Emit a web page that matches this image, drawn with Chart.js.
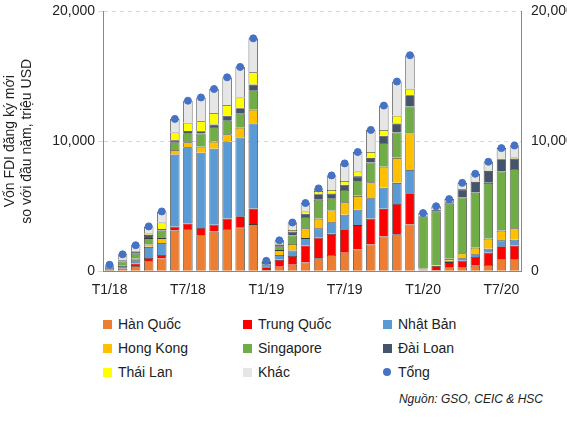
<!DOCTYPE html>
<html><head><meta charset="utf-8">
<script src="https://cdn.jsdelivr.net/npm/chart.js@4"></script>
<style>
body{margin:0;background:#fff;font-family:Arial,"Liberation Sans",sans-serif;}
#wrap{position:absolute;left:0;top:0;width:567px;height:302px;}
.lg{position:absolute;font-size:14px;color:#222;display:flex;align-items:center;}
.lg i{display:inline-block;width:9px;height:9px;margin-right:6px;}
.lg b{display:inline-block;width:8px;height:8px;border-radius:50%;margin-right:7px;}
#src{position:absolute;right:24px;top:392px;font-size:12px;font-style:italic;color:#222;}
</style></head><body>
<div id="wrap"><canvas id="c"></canvas></div>
<div id="legend"></div>
<div id="src">Nguồn: GSO, CEIC &amp; HSC</div>
<script>
const months = [];
["18","19","20"].forEach((y) => {
  const n = y === "20" ? 8 : 12;
  for (let m = 1; m <= n; m++) months.push("T" + m + "/" + y);
});
const hanQuoc   = [100,200,400,775,975,3125,3250,2775,3050,3250,3375,3625, 100,350,500,675,1000,1250,1425,1675,2050,2675,2850,3600, 75,100,300,300,425,475,925,925];
const trungQuoc = [50,50,200,250,275,300,425,550,525,800,850,1200, 200,525,675,1300,1575,1625,1800,1875,2000,2125,2325,2400, 50,300,400,500,675,950,1000,1050];
const nhatBan   = [100,150,250,850,925,5550,5875,5800,5850,5925,6075,6550, 150,375,425,575,725,900,1125,1175,1575,1625,1625,1800, 25,25,100,200,200,300,450,450];
const hongKong  = [50,50,100,175,375,350,375,450,550,575,750,1050, 50,375,500,750,750,900,950,1075,1225,1625,1925,2800, 50,25,150,375,500,775,750,875];
const singapore = [80,300,400,500,575,600,700,1025,1125,1075,1075,1500, 50,300,650,875,1450,950,950,1125,1525,1825,1950,2075, 4000,4125,4250,4300,4250,4300,4550,4575];
const daiLoan   = [60,100,150,250,125,150,175,175,200,350,425,450, 150,125,300,250,425,350,400,375,350,550,700,875, 50,150,100,625,825,925,950,800];
const thaiLan   = [20,50,50,100,500,600,625,775,875,825,825,950, 50,50,125,175,250,275,300,375,450,450,600,500, 25,25,25,25,25,50,50,75];
const khac      = [40,400,450,550,850,1050,1700,1825,1850,2125,2350,2600, 50,275,575,650,200,1125,1350,1500,1700,1875,2625,2575, 200,250,225,475,600,650,800,925];
const tong      = [500,1300,2000,3450,4600,11725,13125,13375,14025,14925,15725,17925, 800,2375,3750,5250,6375,7375,8300,9175,10875,12750,14600,16625, 4475,5000,5550,6800,7500,8425,9475,9675];
const yTicks = [0,10000,20000];

const series = [
  ["Hàn Quốc", hanQuoc, "#ED7D31"],
  ["Trung Quốc", trungQuoc, "#FF0000"],
  ["Nhật Bản", nhatBan, "#5B9BD5"],
  ["Hong Kong", hongKong, "#FFC000"],
  ["Singapore", singapore, "#70AD47"],
  ["Đài Loan", daiLoan, "#44546A"],
  ["Thái Lan", thaiLan, "#FFFF00"],
  ["Khác", khac, "#E7E6E6"],
];

const datasets = series.map(([label, data, color]) => ({
  type: "bar", label, data, backgroundColor: color,
  borderColor: "#3a3a3a", borderWidth: 0.8, stack: "s",
  barPercentage: 0.72, categoryPercentage: 1, order: 2,
}));
datasets.push({
  type: "line", label: "Tổng", data: tong, showLine: false,
  pointRadius: 3.5, pointBackgroundColor: "#4472C4", pointBorderColor: "#4472C4", order: 1,
});

const fmt = (v) => v.toLocaleString("en-US");
const font = { size: 14, family: "Arial, 'Liberation Sans', sans-serif" };

new Chart(document.getElementById("c"), {
  data: { labels: months, datasets },
  options: {
    responsive: true, maintainAspectRatio: false, animation: false,
    layout: { padding: { top: 6, right: 0, left: 0, bottom: 0 } },
    plugins: { legend: { display: false }, tooltip: { enabled: false } },
    scales: {
      x: {
        stacked: true,
        grid: { display: false, drawTicks: true },
        border: { color: "#888" },
        ticks: {
          autoSkip: false, maxRotation: 0, color: "#222", font,
          callback(value, i) { return i % 6 === 0 ? months[i] : ""; },
        },
      },
      y: {
        stacked: true, min: 0, max: 20000, position: "left",
        afterBuildTicks(s) { s.ticks = yTicks.map((v) => ({ value: v })); },
        afterFit(s) { s.width = 103; },
        grid: { color: "#d8d8d8", borderDash: [4, 4], drawTicks: true, tickLength: 5 },
        border: { color: "#888", dash: [4, 4] },
        ticks: { color: "#222", font, callback: (v) => fmt(v) },
        title: {
          display: true, color: "#222", font,
          text: ["Vốn FDI đăng ký mới", "so với đầu năm, triệu USD"],
          padding: 2,
        },
      },
      y2: {
        min: 0, max: 20000, position: "right",
        afterBuildTicks(s) { s.ticks = yTicks.map((v) => ({ value: v })); },
        afterFit(s) { s.width = 46; },
        grid: { display: false },
        border: { color: "#888" },
        ticks: { color: "#222", font, padding: 2, callback: (v) => fmt(v) },
      },
    },
  },
});

const legendItems = series.map(([l, , c]) => [l, c]).concat([["Tổng", "#4472C4"]]);
const lg = document.getElementById("legend");
legendItems.forEach(([label, color], i) => {
  const d = document.createElement("div");
  d.className = "lg";
  d.style.left = [103, 243, 383][i % 3] + "px";
  d.style.top = (316 + Math.floor(i / 3) * 24) + "px";
  d.innerHTML = (label === "Tổng" ? `<b style="background:${color}"></b>` : `<i style="background:${color}"></i>`) + label;
  lg.appendChild(d);
});
</script>
</body></html>
